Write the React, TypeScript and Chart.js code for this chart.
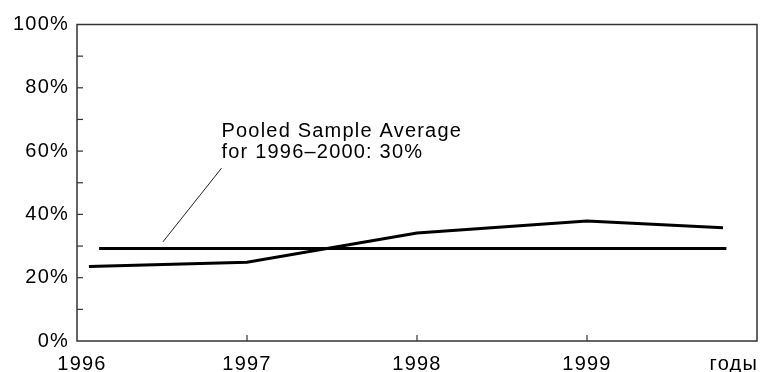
import React, { useEffect, useRef } from 'react';
import { Chart, registerables } from 'chart.js';

Chart.register(...registerables);

// ---- data ----
const years = [1996.07, 1997, 1998, 1999, 1999.8];
const shares = [23.5, 24.9, 34.1, 37.9, 35.8];
const averageYears = [1996.13, 1999.82];
const averageShares = [29.2, 29.2];
const xTickYears = [1996, 1997, 1998, 1999, 2000];
const xTickLabels = ['1996', '1997', '1998', '1999', 'годы'];
const yTickValues = [0, 20, 40, 60, 80, 100];
const yMinorValues = [10, 20, 30, 40, 50, 60, 70, 80, 90];
const annotationLines = ['Pooled Sample Average', 'for 1996–2000: 30%'];
// annotation anchors in data units
const annotationText = { x: 1996.85, y: [64.5, 57.9] };
const leaderFrom = { x: 1996.505, y: 31.3 };
const leaderTo = { x: 1996.85, y: 54.6 };

const FONT = '20px "Liberation Sans", Arial, Helvetica, sans-serif';

const decorPlugin = {
  id: 'decor',
  afterDraw(chart: any) {
    const { ctx, chartArea: a, scales } = chart;
    const x = scales.x;
    const y = scales.y;
    ctx.save();
    // frame
    ctx.strokeStyle = '#333';
    ctx.lineWidth = 1.5;
    ctx.strokeRect(a.left, a.top, a.right - a.left, a.bottom - a.top);
    // y ticks (inward)
    ctx.lineWidth = 1.2;
    yMinorValues.forEach((v) => {
      const py = y.getPixelForValue(v);
      ctx.beginPath();
      ctx.moveTo(a.left, py);
      ctx.lineTo(a.left + 6, py);
      ctx.stroke();
    });
    // x ticks (inward)
    xTickYears.forEach((v, i) => {
      if (i === 0 || i === xTickYears.length - 1) return;
      const px = x.getPixelForValue(v);
      ctx.beginPath();
      ctx.moveTo(px, a.bottom);
      ctx.lineTo(px, a.bottom - 6);
      ctx.stroke();
    });
    // labels
    ctx.fillStyle = '#000';
    ctx.font = FONT;
    try { (ctx as any).letterSpacing = '1.2px'; } catch (e) {}
    ctx.textAlign = 'right';
    ctx.textBaseline = 'middle';
    yTickValues.forEach((v) => {
      ctx.fillText(v + '%', a.left - 8, y.getPixelForValue(v));
    });
    ctx.textBaseline = 'alphabetic';
    xTickYears.forEach((v, i) => {
      const px = x.getPixelForValue(v);
      const py = a.bottom + 29;
      if (i === xTickYears.length - 1) {
        ctx.textAlign = 'right';
        ctx.fillText(xTickLabels[i], a.right + 1, py);
      } else if (i === 0) {
        ctx.textAlign = 'center';
        ctx.fillText(xTickLabels[i], px + 5, py);
      } else {
        ctx.textAlign = 'center';
        ctx.fillText(xTickLabels[i], px, py);
      }
    });
    // annotation
    ctx.textAlign = 'left';
    annotationLines.forEach((t, i) => {
      ctx.fillText(t, x.getPixelForValue(annotationText.x), y.getPixelForValue(annotationText.y[i]));
    });
    ctx.strokeStyle = '#222';
    ctx.lineWidth = 1;
    ctx.beginPath();
    ctx.moveTo(x.getPixelForValue(leaderFrom.x), y.getPixelForValue(leaderFrom.y));
    ctx.lineTo(x.getPixelForValue(leaderTo.x), y.getPixelForValue(leaderTo.y));
    ctx.stroke();
    ctx.restore();
  },
};

export default function App() {
  const ref = useRef<HTMLCanvasElement | null>(null);
  useEffect(() => {
    if (!ref.current) return;
    const chart = new Chart(ref.current, {
      type: 'line',
      data: {
        datasets: [
          {
            label: 'Share',
            data: years.map((yr, i) => ({ x: yr, y: shares[i] })),
            borderColor: '#000',
            borderWidth: 3,
            pointRadius: 0,
            tension: 0,
            fill: false,
          },
          {
            label: 'Pooled Sample Average',
            data: averageYears.map((yr, i) => ({ x: yr, y: averageShares[i] })),
            borderColor: '#000',
            borderWidth: 3,
            pointRadius: 0,
            tension: 0,
            fill: false,
          },
        ],
      },
      options: {
        animation: false,
        responsive: false,
        devicePixelRatio: 1,
        layout: { padding: { left: 77, top: 24.5, right: 3, bottom: 31 } },
        plugins: { legend: { display: false }, tooltip: { enabled: false } },
        scales: {
          x: { type: 'linear', min: 1996, max: 2000, display: false },
          y: { type: 'linear', min: 0, max: 100, display: false },
        },
      },
      plugins: [decorPlugin],
    });
    return () => chart.destroy();
  }, []);
  return (
    <div style={{ position: 'fixed', left: 0, top: 0, width: 760, height: 372, background: '#fff' }}>
      <canvas ref={ref} width={760} height={372} style={{ display: 'block' }} />
    </div>
  );
}
